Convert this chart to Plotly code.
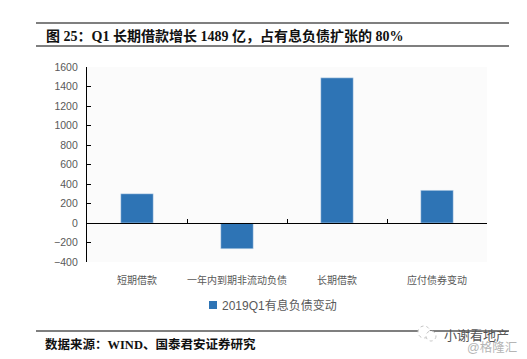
import plotly.graph_objects as go

categories = ["短期借款", "一年内到期非流动负债", "长期借款", "应付债券变动"]
values = [300, -265, 1489, 335]
series_name = "2019Q1有息负债变动"
tick_vals = [-400, -200, 0, 200, 400, 600, 800, 1000, 1200, 1400, 1600]
boundary_ticks = [0.5, 1.5, 2.5, 3.5]

# The page has an 8 px body margin, so the figure is smaller and coordinates shift by 8.
OFF = 8
W, H = 511, 346
L, R, T, B = 87 - OFF, 487 - OFF, 67 - OFF, 262 - OFF
CJK = "Liberation Sans, Noto Sans CJK SC"
SERIF = "Liberation Serif, Noto Sans CJK SC"
BAR = "#2E74B5"

fig = go.Figure()
fig.add_bar(x=categories, y=values, name=series_name, marker_color=BAR, width=0.325, showlegend=False)
# Legend entry: small square swatch right next to its text; it also carries the zero-line axis.
fig.add_scatter(x=[0, 1, 2, 3], y=[None] * len(categories), xaxis="x2", name=series_name, mode="lines",
                line=dict(color=BAR, width=8, dash="0px,22px,8px,0px"), showlegend=True)


def px(x):
    return (x - OFF - L) / (R - L)


def py(y):
    return (B - (y - OFF)) / (B - T)


for y in (23, 46, 331):
    fig.add_shape(type="line", xref="paper", yref="paper", x0=px(36), x1=px(509), y0=py(y), y1=py(y),
                  line=dict(color="#000000", width=1.2))
# WeChat-style watermark icon
for cx, cy, r in ((424, 332, 6), (431, 336, 5)):
    fig.add_shape(type="circle", xref="paper", yref="paper", x0=px(cx - r), x1=px(cx + r), y0=py(cy + r), y1=py(cy - r),
                  line=dict(color="#c4c4c4", width=1, dash="dot"), fillcolor="#ffffff")

fig.add_annotation(text="<b>图 25：Q1 长期借款增长 1489 亿，占有息负债扩张的 80%</b>", xref="paper", yref="paper",
                   x=px(44), y=py(36), xanchor="left", yanchor="middle", showarrow=False,
                   font=dict(family=SERIF, size=14, color="#111111"))
fig.add_annotation(text="<b>数据来源：WIND、国泰君安证券研究</b>", xref="paper", yref="paper",
                   x=px(43), y=py(344), xanchor="left", yanchor="middle", showarrow=False,
                   font=dict(family=SERIF, size=12.5, color="#111111"))
fig.add_annotation(text="小谢看地产", xref="paper", yref="paper", x=px(511), y=py(335), xanchor="right",
                   yanchor="middle", showarrow=False, font=dict(family=CJK, size=13, color="#555555"))
fig.add_annotation(text="@格隆汇", xref="paper", yref="paper", x=px(519), y=py(347), xanchor="right",
                   yanchor="middle", showarrow=False, font=dict(family=CJK, size=12.5, color="#b5b5b5"))

fig.update_layout(
    width=W, height=H, autosize=False,
    margin=dict(l=L, r=W - R, t=T, b=H - B, autoexpand=False),
    paper_bgcolor="#ffffff", plot_bgcolor="#fbfbfb",
    font=dict(family=CJK, size=10, color="#595959"),
    legend=dict(orientation="h", x=px(182), xanchor="left", y=py(305), yanchor="middle",
                font=dict(size=12, color="#595959"), itemwidth=30, bgcolor="rgba(0,0,0,0)"),
    xaxis=dict(showgrid=False, zeroline=False, showline=False, ticks="outside", ticklen=9, tickcolor="rgba(0,0,0,0)",
               tickfont=dict(size=10, color="#595959"), range=[-0.5, 3.5]),
    xaxis2=dict(overlaying="x", anchor="free", position=0.2, side="bottom", type="linear",
                range=[-0.5, 3.5], showgrid=False, zeroline=False, showline=True,
                linecolor="#000000", linewidth=1.3, ticks="inside", ticklen=4, tickcolor="#000000", tickwidth=1,
                tickmode="array", tickvals=boundary_ticks, showticklabels=False),
    yaxis=dict(range=[-400, 1600], tickvals=tick_vals, showgrid=False, zeroline=False,
               showline=True, linecolor="#000000", linewidth=1.3, ticks="inside", ticklen=4,
               tickcolor="#000000", ticklabelstandoff=6, tickfont=dict(size=10.5, color="#595959")),
)

fig.write_html("out.html")
